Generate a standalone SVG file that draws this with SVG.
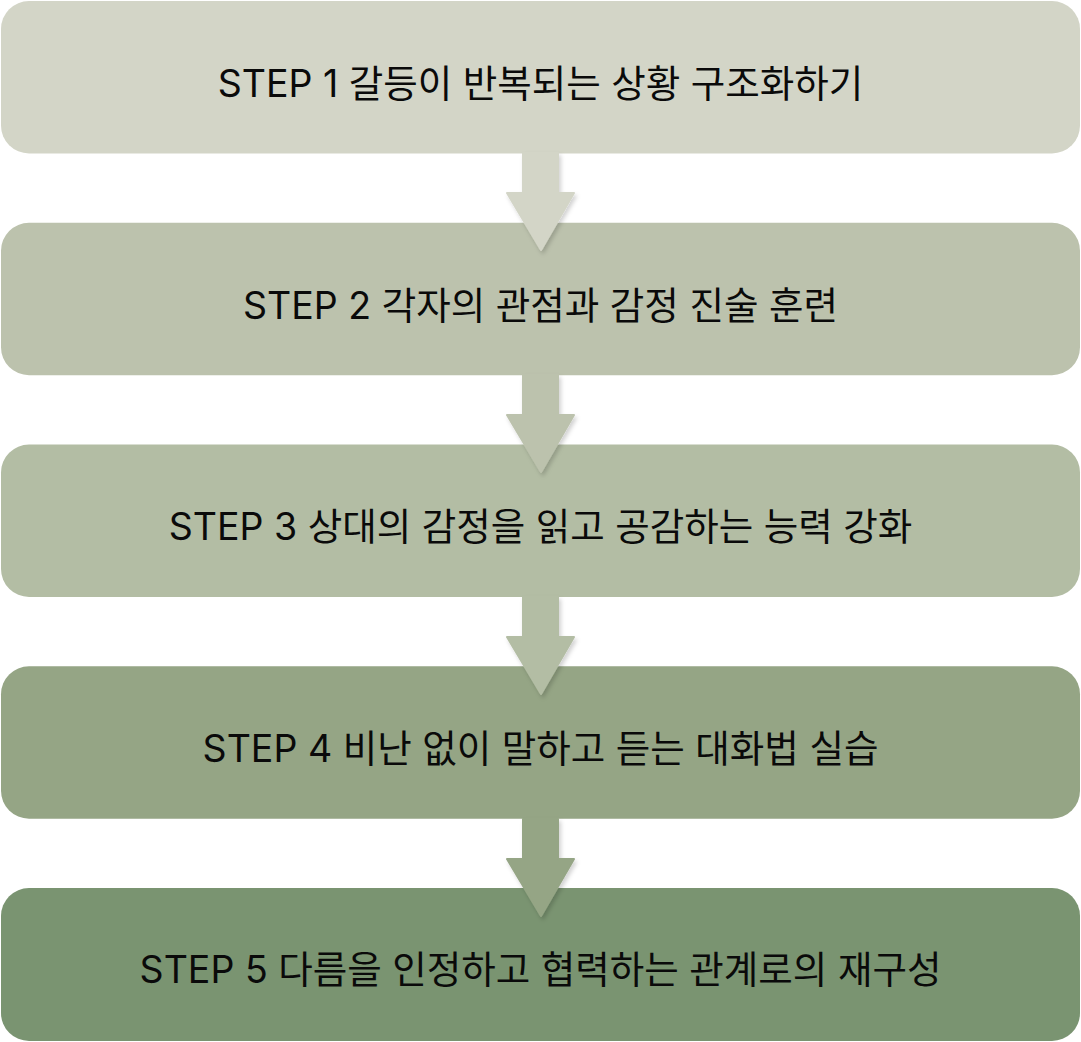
<svg xmlns="http://www.w3.org/2000/svg" width="1081" height="1042" viewBox="0 0 1081 1042">
<defs>
<style>
.box{stroke:none}
.lbl{font-family:"Inter","Noto Sans CJK KR",sans-serif;font-size:37.5px;font-weight:400;fill:#0a0a0a;text-anchor:middle}
</style>
<filter id="sh" x="-30%" y="-30%" width="160%" height="160%">
<feDropShadow dx="2" dy="3" stdDev="3" flood-color="#000" flood-opacity="0.18"/>
</filter>
</defs>
<rect width="1081" height="1042" fill="#fff"/>
<g id="node1"><rect class="box" x="1" y="1" width="1079" height="152.5" rx="28" fill="#D3D5C7"/><text class="lbl" x="540.5" y="97">STEP 1 갈등이 반복되는 상황 구조화하기</text></g>
<g id="node2"><rect class="box" x="1" y="222.75" width="1079" height="152.5" rx="28" fill="#BCC2AD"/><text class="lbl" x="540.5" y="318.5">STEP 2 각자의 관점과 감정 진술 훈련</text></g>
<g id="node3"><rect class="box" x="1" y="444.5" width="1079" height="152.5" rx="28" fill="#B3BDA4"/><text class="lbl" x="540.5" y="540">STEP 3 상대의 감정을 읽고 공감하는 능력 강화</text></g>
<g id="node4"><rect class="box" x="1" y="666.25" width="1079" height="152.5" rx="28" fill="#95A585"/><text class="lbl" x="540.5" y="762">STEP 4 비난 없이 말하고 듣는 대화법 실습</text></g>
<g id="node5"><rect class="box" x="1" y="888" width="1079" height="153" rx="28" fill="#7A9471"/><text class="lbl" x="540.5" y="983">STEP 5 다름을 인정하고 협력하는 관계로의 재구성</text></g>
<g id="connectors" filter="url(#sh)">
<path d="M523 153 H558 V193 H574 L541 250 L507 193 H523 Z" fill="#D3D5C7" stroke="#D3D5C7" stroke-width="2" stroke-linejoin="round"/>
<path d="M523 375 H558 V415 H574 L541 472 L507 415 H523 Z" fill="#BCC2AD" stroke="#BCC2AD" stroke-width="2" stroke-linejoin="round"/>
<path d="M523 597 H558 V637 H574 L541 694 L507 637 H523 Z" fill="#B3BDA4" stroke="#B3BDA4" stroke-width="2" stroke-linejoin="round"/>
<path d="M523 819 H558 V859 H574 L541 916 L507 859 H523 Z" fill="#95A585" stroke="#95A585" stroke-width="2" stroke-linejoin="round"/>
</g>
</svg>
